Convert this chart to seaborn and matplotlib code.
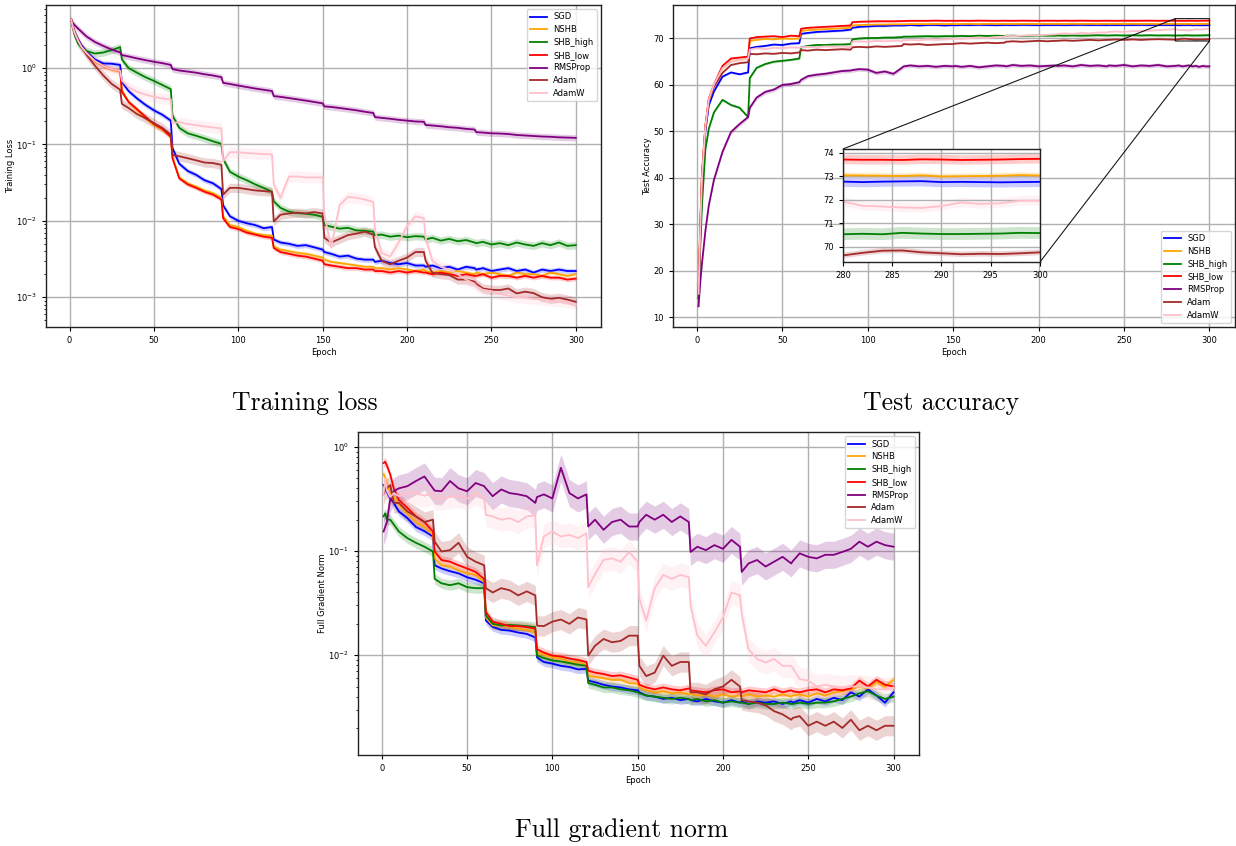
import numpy as np
import pandas as pd
import matplotlib
matplotlib.use("Agg")
import matplotlib.pyplot as plt
import seaborn as sns

OPTIMIZERS = ["SGD", "NSHB", "SHB_high", "SHB_low", "RMSProp", "Adam", "AdamW"]
COLORS = ["blue", "orange", "green", "red", "purple", "brown", "pink"]

EPOCHS = [1, 2, 3, 5, 7, 10, 15, 20, 25, 30,
          31, 35, 40, 45, 50, 55, 60,
          61, 65, 70, 75, 80, 85, 90,
          91, 95, 100, 105, 110, 115, 120,
          121, 125, 130, 135, 140, 145, 150,
          151, 155, 160, 165, 170, 175, 180,
          181, 185, 190, 195, 200, 205, 210,
          211, 215, 220, 225, 230, 235, 240,
          241, 245, 250, 255, 260, 265, 270, 275, 280, 285, 290, 295, 300]

EPOCHS_ACC = [1, 2, 3, 5, 7, 10, 15, 20, 25, 30,
              31, 35, 40, 45, 50, 55, 60,
              61, 65, 70, 75, 80, 85, 90,
              91, 95, 100, 105, 110, 115, 120,
              121, 125, 130, 135, 140, 145, 150,
              151, 155, 160, 165, 170, 175, 180,
              181, 185, 190, 195, 200, 205, 210,
              211, 215, 220, 225, 230, 235, 240,
              241, 245, 250, 255, 260, 265, 270, 275,
              280, 282, 284, 286, 288, 290, 292, 294, 296, 298, 300]

# ---------------- training loss (mean over runs) ----------------
loss_sgd = [4.3, 3.5, 3.0, 2.4, 2.0, 1.65, 1.3, 1.15, 1.14, 1.1,
            0.66, 0.50, 0.40, 0.33, 0.28, 0.245, 0.205,
            0.09, 0.056, 0.045, 0.040, 0.034, 0.031, 0.026,
            0.016, 0.0115, 0.010, 0.0093, 0.0088, 0.0080, 0.0083,
            0.0057, 0.0052, 0.0050, 0.0047, 0.0048, 0.0045, 0.0042,
            0.0039, 0.0037, 0.0034, 0.0035, 0.0032, 0.0031, 0.0031,
            0.0029, 0.0030, 0.0028, 0.0027, 0.0028, 0.0026, 0.0026,
            0.0025, 0.0026, 0.0024, 0.0025, 0.0023, 0.0025, 0.0024,
            0.0023, 0.0024, 0.0022, 0.0023, 0.0024, 0.0022, 0.0023, 0.0021, 0.0023, 0.0022, 0.0023, 0.0022, 0.0022]
loss_nshb = [4.3, 3.4, 2.9, 2.3, 1.9, 1.58, 1.22, 1.05, 0.96, 0.90,
             0.52, 0.36, 0.28, 0.22, 0.18, 0.155, 0.128,
             0.068, 0.037, 0.031, 0.028, 0.025, 0.023, 0.020,
             0.0115, 0.0088, 0.0083, 0.0074, 0.0068, 0.0065, 0.0064,
             0.0046, 0.0042, 0.0040, 0.0038, 0.0037, 0.0035, 0.0033,
             0.0031, 0.0029, 0.0028, 0.0027, 0.0026, 0.0025, 0.0025,
             0.0024, 0.0024, 0.0023, 0.0024, 0.0023, 0.0022, 0.0023,
             0.0022, 0.0021, 0.0022, 0.0021, 0.0022, 0.0021, 0.0020,
             0.0021, 0.0020, 0.0021, 0.0020, 0.0019, 0.0021, 0.0020, 0.0020, 0.0019, 0.0021, 0.0020, 0.0019, 0.0020]
loss_shb_high = [4.3, 3.3, 2.7, 2.1, 1.85, 1.68, 1.55, 1.6, 1.72, 1.88,
                 1.3, 1.0, 0.87, 0.76, 0.68, 0.6, 0.53,
                 0.24, 0.165, 0.14, 0.13, 0.12, 0.11, 0.102,
                 0.065, 0.044, 0.038, 0.034, 0.030, 0.027, 0.024,
                 0.018, 0.0148, 0.0132, 0.0126, 0.0124, 0.0120, 0.0113,
                 0.0088, 0.0084, 0.0079, 0.0081, 0.0075, 0.0074, 0.0072,
                 0.0065, 0.0066, 0.0062, 0.0064, 0.0061, 0.0063, 0.0062,
                 0.0057, 0.0060, 0.0055, 0.0058, 0.0054, 0.0056, 0.0052,
                 0.0051, 0.0053, 0.0049, 0.0051, 0.0048, 0.0052, 0.0049, 0.0047, 0.0051, 0.0048, 0.0052, 0.0047, 0.0048]
loss_shb_low = [4.3, 3.4, 2.9, 2.3, 1.9, 1.58, 1.24, 1.06, 0.97, 0.92,
                0.49, 0.36, 0.29, 0.23, 0.185, 0.16, 0.126,
                0.066, 0.036, 0.030, 0.027, 0.024, 0.022, 0.019,
                0.0108, 0.0083, 0.0078, 0.0070, 0.0066, 0.0062, 0.0060,
                0.0044, 0.0039, 0.0037, 0.0035, 0.0034, 0.0032, 0.0030,
                0.0027, 0.0026, 0.0025, 0.0024, 0.0024, 0.0023, 0.0023,
                0.0022, 0.0022, 0.0021, 0.0022, 0.0021, 0.0022, 0.0021,
                0.0021, 0.0020, 0.0021, 0.0020, 0.0019, 0.0020, 0.0019,
                0.0019, 0.0020, 0.0018, 0.0019, 0.0019, 0.0018, 0.0019, 0.0018, 0.0019, 0.0018, 0.0018, 0.0017, 0.00175]
loss_rmsprop = [4.2, 3.9, 3.65, 3.3, 3.0, 2.6, 2.2, 1.95, 1.75, 1.6,
                1.48, 1.42, 1.34, 1.27, 1.21, 1.16, 1.1,
                0.97, 0.93, 0.9, 0.87, 0.83, 0.8, 0.76,
                0.64, 0.62, 0.59, 0.565, 0.54, 0.52, 0.5,
                0.43, 0.42, 0.405, 0.39, 0.375, 0.36, 0.345,
                0.315, 0.31, 0.3, 0.29, 0.28, 0.268, 0.258,
                0.228, 0.223, 0.217, 0.21, 0.205, 0.2, 0.198,
                0.18, 0.177, 0.173, 0.168, 0.165, 0.16, 0.157,
                0.145, 0.143, 0.14, 0.139, 0.137, 0.133, 0.131, 0.129, 0.127, 0.126, 0.124, 0.123, 0.122]
loss_adam = [4.3, 3.4, 2.9, 2.3, 1.9, 1.5, 1.08, 0.8, 0.62, 0.52,
             0.34, 0.3, 0.25, 0.22, 0.19, 0.165, 0.135,
             0.073, 0.070, 0.066, 0.062, 0.058, 0.057, 0.054,
             0.022, 0.027, 0.027, 0.026, 0.025, 0.0245, 0.024,
             0.0098, 0.012, 0.0125, 0.0128, 0.0125, 0.013, 0.0125,
             0.006, 0.0052, 0.0058, 0.0065, 0.0068, 0.0072, 0.0066,
             0.0045, 0.0030, 0.0027, 0.0030, 0.0033, 0.0039, 0.0039,
             0.0030, 0.0021, 0.0020, 0.00195, 0.0017, 0.0017, 0.0016,
             0.0015, 0.0013, 0.00125, 0.00124, 0.0013, 0.00112, 0.00118, 0.00113, 0.0010, 0.00095, 0.00098, 0.00093, 0.00087]
loss_adamw = [4.3, 3.4, 2.9, 2.3, 1.9, 1.58, 1.24, 1.06, 0.97, 0.92,
              0.69, 0.56, 0.49, 0.45, 0.42, 0.40, 0.39,
              0.19, 0.196, 0.185, 0.179, 0.172, 0.167, 0.162,
              0.06, 0.079, 0.079, 0.077, 0.076, 0.075, 0.074,
              0.03, 0.02, 0.038, 0.038, 0.037, 0.037, 0.037,
              0.012, 0.0045, 0.016, 0.0205, 0.020, 0.019, 0.0177,
              0.0075, 0.0038, 0.0034, 0.0052, 0.0085, 0.0115, 0.0108,
              0.006, 0.003, 0.0025, 0.0023, 0.0020, 0.0017, 0.0015,
              0.0014, 0.00125, 0.0012, 0.0011, 0.00105, 0.0010, 0.00098, 0.00095, 0.00093, 0.0009, 0.00088, 0.00085, 0.0008]

# relative half-width of the shaded spread band
loss_spread = [0.08, 0.07, 0.12, 0.07, 0.10, 0.15, 0.18]

# ---------------- test accuracy ----------------
acc_sgd = [14, 27, 38, 50, 55.5, 58.5, 61.7, 62.6, 62.2, 62.6,
           67.8, 68.1, 68.3, 68.6, 68.5, 68.8, 68.9,
           70.9, 71.1, 71.3, 71.4, 71.5, 71.6, 71.8,
           72.2, 72.4, 72.5, 72.6, 72.6, 72.7, 72.7,
           72.7, 72.8, 72.7, 72.8, 72.8, 72.7, 72.8,
           72.75, 72.8, 72.78, 72.82, 72.8, 72.76, 72.8,
           72.8, 72.78, 72.82, 72.8, 72.77, 72.8, 72.79,
           72.8, 72.78, 72.8, 72.82, 72.79, 72.8, 72.78,
           72.8, 72.78, 72.8, 72.79, 72.81, 72.78, 72.8, 72.79,
           72.78, 72.76, 72.78, 72.79, 72.8, 72.76, 72.77, 72.76, 72.75, 72.76, 72.77]
acc_nshb = [15, 29, 40, 51, 56.5, 59.8, 63.5, 65.0, 65.3, 65.6,
            69.4, 69.6, 69.8, 69.7, 69.9, 69.8, 69.9,
            71.5, 71.7, 71.8, 71.9, 72.0, 72.1, 72.2,
            72.7, 72.8, 72.85, 72.9, 72.9, 72.95, 72.95,
            72.95, 73.0, 73.0, 73.0, 73.02, 73.0, 73.02,
            73.0, 73.02, 73.03, 73.0, 73.04, 73.02, 73.03,
            73.03, 73.02, 73.04, 73.03, 73.02, 73.05, 73.03,
            73.04, 73.02, 73.05, 73.03, 73.04, 73.02, 73.05,
            73.03, 73.04, 73.02, 73.05, 73.03, 73.04, 73.02, 73.04,
            73.05, 73.04, 73.03, 73.02, 73.05, 73.0, 73.01, 73.02, 73.03, 73.06, 73.04]
acc_shb_high = [14, 25, 34, 46, 50.5, 54, 56.7, 55.6, 55.0, 53.0,
                61.4, 63.6, 64.4, 64.9, 65.1, 65.3, 65.6,
                68.0, 68.3, 68.5, 68.5, 68.6, 68.6, 68.7,
                69.7, 69.9, 70.0, 70.0, 70.1, 70.1, 70.2,
                70.3, 70.3, 70.35, 70.4, 70.35, 70.4, 70.4,
                70.4, 70.45, 70.4, 70.5, 70.45, 70.5, 70.45,
                70.5, 70.5, 70.45, 70.5, 70.55, 70.5, 70.5,
                70.55, 70.5, 70.55, 70.5, 70.55, 70.6, 70.55,
                70.55, 70.6, 70.55, 70.6, 70.55, 70.6, 70.55, 70.58,
                70.54, 70.56, 70.54, 70.6, 70.57, 70.55, 70.55, 70.56, 70.57, 70.6, 70.59]
acc_shb_low = [15, 30, 41, 51, 57, 60, 64, 65.6, 65.8, 66.0,
               69.9, 70.2, 70.3, 70.4, 70.2, 70.5, 70.4,
               72.0, 72.2, 72.3, 72.4, 72.5, 72.6, 72.7,
               73.4, 73.5, 73.55, 73.6, 73.6, 73.6, 73.65,
               73.65, 73.7, 73.7, 73.7, 73.75, 73.7, 73.72,
               73.7, 73.72, 73.7, 73.75, 73.72, 73.7, 73.73,
               73.72, 73.7, 73.74, 73.72, 73.7, 73.73, 73.72,
               73.7, 73.73, 73.71, 73.74, 73.72, 73.7, 73.73,
               73.72, 73.7, 73.73, 73.71, 73.72, 73.74, 73.71, 73.72,
               73.72, 73.71, 73.71, 73.7, 73.73, 73.72, 73.7, 73.71, 73.72, 73.74, 73.75]
acc_rmsprop = [12.3, 17.5, 21.5, 28.5, 34, 39.5, 45.5, 49.8, 51.5, 53.0,
               55.0, 57.2, 58.4, 58.9, 59.9, 60.1, 60.5,
               61.0, 61.8, 62.1, 62.3, 62.6, 62.9, 63.0,
               63.1, 63.3, 63.2, 62.5, 62.8, 62.3, 63.6,
               63.9, 64.1, 63.9, 64.0, 63.8, 64.0, 63.9,
               64.0, 63.8, 64.0, 63.7, 63.9, 64.1, 64.0,
               63.9, 64.2, 64.0, 64.1, 63.9, 64.0, 64.1,
               64.0, 64.1, 63.9, 64.2, 64.0, 64.1, 63.9,
               64.1, 64.0, 64.2, 63.9, 64.1, 64.0, 64.2, 63.9,
               64.0, 64.1, 63.9, 64.0, 64.1, 63.9, 64.0, 63.8, 64.0, 63.9, 63.9]
acc_adam = [15, 29, 40, 51, 56.5, 59.5, 62.5, 64.2, 64.6, 64.8,
            66.6, 66.5, 66.7, 66.6, 66.8, 66.7, 66.9,
            67.4, 67.3, 67.5, 67.4, 67.5, 67.6, 67.5,
            68.0, 68.1, 68.0, 68.2, 68.1, 68.2, 68.3,
            68.7, 68.6, 68.7, 68.5, 68.6, 68.7, 68.7,
            68.8, 68.9, 68.8, 68.9, 69.0, 68.9, 69.0,
            69.2, 69.3, 69.2, 69.3, 69.4, 69.3, 69.4,
            69.4, 69.5, 69.4, 69.5, 69.6, 69.5, 69.6,
            69.6, 69.7, 69.6, 69.7, 69.6, 69.7, 69.75, 69.7,
            69.64, 69.75, 69.84, 69.85, 69.77, 69.73, 69.69, 69.71, 69.7, 69.73, 69.77]
acc_adamw = [15, 29, 40, 51, 56.8, 60, 63.5, 65.0, 65.3, 65.6,
             67.5, 67.8, 67.6, 67.9, 67.8, 68.0, 67.9,
             68.0, 68.1, 68.0, 68.2, 68.1, 68.2, 68.0,
             69.2, 69.3, 69.2, 69.4, 69.3, 69.4, 69.4,
             69.5, 69.6, 69.5, 69.7, 69.6, 69.7, 69.8,
             69.9, 69.8, 70.0, 70.1, 70.0, 70.2, 70.3,
             70.5, 70.4, 70.5, 70.6, 70.6, 70.7, 70.8,
             70.9, 71.0, 70.9, 71.1, 71.0, 71.2, 71.2,
             71.3, 71.4, 71.3, 71.5, 71.5, 71.6, 71.7, 71.8,
             71.93, 71.75, 71.72, 71.68, 71.66, 71.74, 71.89, 71.83, 71.86, 71.97, 71.97]

# absolute half-width of the shaded spread band (accuracy points)
acc_spread = [0.22, 0.12, 0.25, 0.2, 0.45, 0.12, 0.2]

# ---------------- full gradient norm ----------------
grad_sgd = [0.43, 0.40, 0.37, 0.32, 0.29, 0.24, 0.207, 0.17, 0.155, 0.138,
            0.073, 0.068, 0.064, 0.061, 0.056, 0.053, 0.049,
            0.0215, 0.0187, 0.0175, 0.0172, 0.0165, 0.016, 0.0148,
            0.0095, 0.0086, 0.0083, 0.0079, 0.0077, 0.0073, 0.0074,
            0.0057, 0.0055, 0.0052, 0.0050, 0.0049, 0.0047, 0.0046,
            0.0044, 0.0041, 0.0040, 0.0038, 0.0039, 0.0037, 0.0038,
            0.0037, 0.0036, 0.0038, 0.0036, 0.0035, 0.0037, 0.0035,
            0.0036, 0.0034, 0.0036, 0.0035, 0.0036, 0.0034, 0.0036,
            0.0035, 0.0037, 0.0035, 0.0038, 0.0036, 0.0039, 0.0037, 0.0044, 0.0040, 0.0047, 0.0041, 0.0035, 0.0044]
grad_nshb = [0.55, 0.5, 0.45, 0.36, 0.33, 0.28, 0.23, 0.19, 0.17, 0.143,
             0.085, 0.073, 0.071, 0.065, 0.061, 0.059, 0.05,
             0.023, 0.0193, 0.0193, 0.0187, 0.018, 0.0175, 0.0165,
             0.0106, 0.0101, 0.0095, 0.0093, 0.0086, 0.0086, 0.0079,
             0.0063, 0.0062, 0.0060, 0.0058, 0.0058, 0.0054, 0.0053,
             0.0049, 0.0046, 0.0044, 0.0045, 0.0043, 0.0044, 0.0042,
             0.0043, 0.0041, 0.0042, 0.0040, 0.0042, 0.0040, 0.0041,
             0.0040, 0.0042, 0.0040, 0.0041, 0.0040, 0.0042, 0.0040,
             0.0041, 0.0042, 0.0040, 0.0043, 0.0041, 0.0044, 0.0045, 0.0047, 0.0050, 0.0048, 0.0055, 0.0050, 0.0058]
grad_shb_high = [0.215, 0.23, 0.2, 0.2, 0.18, 0.154, 0.133, 0.12, 0.11, 0.099,
                 0.054, 0.049, 0.047, 0.049, 0.045, 0.044, 0.044,
                 0.024, 0.020, 0.0193, 0.0195, 0.0193, 0.019, 0.0186,
                 0.0099, 0.0094, 0.0089, 0.0087, 0.0084, 0.0081, 0.0079,
                 0.0054, 0.0052, 0.0049, 0.0049, 0.0047, 0.0046, 0.0044,
                 0.0043, 0.0041, 0.0040, 0.0039, 0.0038, 0.0039, 0.0038,
                 0.0037, 0.0038, 0.0036, 0.0037, 0.0035, 0.0036, 0.0035,
                 0.0035, 0.0034, 0.0035, 0.0034, 0.0034, 0.0035, 0.0034,
                 0.0034, 0.0035, 0.0034, 0.0035, 0.0035, 0.0036, 0.0038, 0.0040, 0.0043, 0.0045, 0.0041, 0.0038, 0.0040]
grad_shb_low = [0.70, 0.72, 0.66, 0.54, 0.40, 0.31, 0.26, 0.215, 0.19, 0.154,
                0.099, 0.082, 0.079, 0.073, 0.068, 0.063, 0.054,
                0.026, 0.021, 0.020, 0.019, 0.019, 0.0186, 0.018,
                0.0114, 0.0106, 0.0099, 0.0097, 0.0093, 0.0090, 0.0086,
                0.0071, 0.0068, 0.0066, 0.0063, 0.0064, 0.0061, 0.0058,
                0.0052, 0.0049, 0.0047, 0.0049, 0.0047, 0.0046, 0.0048,
                0.0046, 0.0045, 0.0044, 0.0046, 0.0047, 0.0044, 0.0045,
                0.0044, 0.0046, 0.0045, 0.0044, 0.0047, 0.0044, 0.0046,
                0.0045, 0.0044, 0.0046, 0.0047, 0.0044, 0.0047, 0.0046, 0.0048, 0.0057, 0.0050, 0.0058, 0.0052, 0.0050]
grad_rmsprop = [0.154, 0.17, 0.19, 0.32, 0.375, 0.40, 0.42, 0.47, 0.52, 0.40,
                0.38, 0.375, 0.47, 0.40, 0.375, 0.45, 0.42,
                0.40, 0.336, 0.39, 0.36, 0.35, 0.336, 0.29,
                0.33, 0.35, 0.32, 0.63, 0.36, 0.32, 0.35,
                0.172, 0.2, 0.16, 0.19, 0.2, 0.172, 0.172,
                0.19, 0.223, 0.2, 0.223, 0.19, 0.215, 0.19,
                0.098, 0.11, 0.102, 0.114, 0.105, 0.128, 0.11,
                0.063, 0.076, 0.082, 0.071, 0.079, 0.088, 0.076,
                0.08, 0.095, 0.088, 0.085, 0.092, 0.092, 0.098, 0.105, 0.123, 0.11, 0.123, 0.114, 0.11]
grad_adam = [0.35, 0.39, 0.40, 0.43, 0.29, 0.29, 0.24, 0.215, 0.19, 0.2,
             0.123, 0.099, 0.102, 0.12, 0.088, 0.079, 0.073,
             0.044, 0.040, 0.044, 0.042, 0.0375, 0.041, 0.0375,
             0.0192, 0.019, 0.021, 0.022, 0.020, 0.023, 0.022,
             0.0099, 0.0123, 0.0143, 0.0133, 0.0137, 0.0154, 0.0154,
             0.0079, 0.0063, 0.0068, 0.0099, 0.0079, 0.0086, 0.0086,
             0.0044, 0.0044, 0.0042, 0.0047, 0.0050, 0.0058, 0.0050,
             0.0037, 0.0036, 0.0035, 0.0033, 0.0029, 0.0027, 0.0024,
             0.0025, 0.0026, 0.0021, 0.0023, 0.0021, 0.0023, 0.0020, 0.0024, 0.0019, 0.0021, 0.0019, 0.0021, 0.0021]
grad_adamw = [0.35, 0.5, 0.38, 0.33, 0.36, 0.336, 0.36, 0.36, 0.34, 0.36,
              0.32, 0.32, 0.33, 0.34, 0.32, 0.36, 0.32,
              0.223, 0.215, 0.2, 0.207, 0.19, 0.215, 0.22,
              0.073, 0.138, 0.154, 0.138, 0.143, 0.133, 0.148,
              0.045, 0.06, 0.082, 0.085, 0.079, 0.098, 0.079,
              0.035, 0.0215, 0.044, 0.059, 0.054, 0.059, 0.056,
              0.03, 0.0154, 0.0123, 0.0166, 0.023, 0.04, 0.0375,
              0.025, 0.0114, 0.0092, 0.0085, 0.0092, 0.0079, 0.0079,
              0.0075, 0.0059, 0.0057, 0.005, 0.0052, 0.005, 0.0049, 0.005, 0.005, 0.0049, 0.0047, 0.0047, 0.0049]

grad_spread = [0.10, 0.10, 0.12, 0.10, 0.35, 0.25, 0.3]

LOSS = [loss_sgd, loss_nshb, loss_shb_high, loss_shb_low, loss_rmsprop, loss_adam, loss_adamw]
ACC = [acc_sgd, acc_nshb, acc_shb_high, acc_shb_low, acc_rmsprop, acc_adam, acc_adamw]
GRAD = [grad_sgd, grad_nshb, grad_shb_high, grad_shb_low, grad_rmsprop, grad_adam, grad_adamw]

for group, ep in ((LOSS, EPOCHS), (ACC, EPOCHS_ACC), (GRAD, EPOCHS)):
    for s in group:
        if len(s) != len(ep):
            raise ValueError(f"length mismatch {len(s)} vs {len(ep)}")

PALETTE = dict(zip(OPTIMIZERS, COLORS))
TICK = 6
LW = 1.3


def long_frame(epochs, series):
    rows = []
    for name, vals in zip(OPTIMIZERS, series):
        for e, v in zip(epochs, vals):
            rows.append((e, v, name))
    return pd.DataFrame(rows, columns=["epoch", "value", "optimizer"])


def draw_curves(ax, epochs, series, spread, log, legend=True):
    ep = np.asarray(epochs, dtype=float)
    for vals, s, color in zip(series, spread, COLORS):
        v = np.asarray(vals, dtype=float)
        if log:
            lo, hi = v / (1 + s), v * (1 + s)
        else:
            lo, hi = v - s, v + s
        ax.fill_between(ep, lo, hi, color=color, alpha=0.2, linewidth=0)
    sns.lineplot(data=long_frame(epochs, series), x="epoch", y="value",
                 hue="optimizer", hue_order=OPTIMIZERS, palette=PALETTE,
                 errorbar=None, linewidth=LW, ax=ax, legend=legend)


def style_axes(ax, ylabel, log, ylim, legend_loc):
    if log:
        ax.set_yscale("log")
    ax.set_xlim(-13.95, 314.95)
    ax.set_ylim(*ylim)
    ax.set_xticks([0, 50, 100, 150, 200, 250, 300])
    ax.grid(True, which="major", color="#b0b0b0", linewidth=1.0)
    ax.set_axisbelow(True)
    ax.tick_params(labelsize=TICK, length=3, width=0.8)
    ax.tick_params(which="minor", length=1.8, width=0.6)
    ax.set_xlabel("Epoch", fontsize=TICK, labelpad=2)
    ax.set_ylabel(ylabel, fontsize=TICK, labelpad=1)
    for sp in ax.spines.values():
        sp.set_linewidth(1.0)
        sp.set_color("#222222")
    handles, labels = ax.get_legend_handles_labels()
    ax.legend(handles, labels, loc=legend_loc, fontsize=TICK,
              handlelength=2.0, borderpad=0.4, labelspacing=0.45)


fig = plt.figure(figsize=(12.36, 8.46), dpi=100)
W, H = 1236.0, 846.0


def frame(left, top, right, bottom):
    return [left / W, 1 - bottom / H, (right - left) / W, (bottom - top) / H]


ax_loss = fig.add_axes(frame(46, 5, 601, 327))
ax_acc = fig.add_axes(frame(673, 5, 1235, 327))
ax_grad = fig.add_axes(frame(358, 432, 919, 755))

draw_curves(ax_loss, EPOCHS, LOSS, loss_spread, log=True)
style_axes(ax_loss, "Training Loss", True, (4.07e-4, 6.7), "upper right")

draw_curves(ax_acc, EPOCHS_ACC, ACC, acc_spread, log=False)
style_axes(ax_acc, "Test Accuracy", False, (7.85, 77.1), "lower right")
ax_acc.set_yticks([10, 20, 30, 40, 50, 60, 70])

draw_curves(ax_grad, EPOCHS, GRAD, grad_spread, log=True)
style_axes(ax_grad, "Full Gradient Norm", True, (1.1e-3, 1.39), "upper right")

# zoomed view of the final epochs of test accuracy
axins = ax_acc.inset_axes([0.3025, 0.2019, 0.3505, 0.351])
draw_curves(axins, EPOCHS_ACC, ACC, acc_spread, log=False, legend=False)
axins.set_xlim(280, 300)
axins.set_ylim(69.36, 74.17)
axins.set_xticks([280, 285, 290, 295, 300])
axins.set_yticks([70, 71, 72, 73, 74])
axins.grid(True, color="#b0b0b0", linewidth=1.0)
axins.tick_params(labelsize=TICK, length=3, width=0.8)
axins.set_xlabel("")
axins.set_ylabel("")
for sp in axins.spines.values():
    sp.set_linewidth(1.0)
    sp.set_color("#222222")
ax_acc.indicate_inset_zoom(axins, edgecolor="black", linewidth=0.8, alpha=0.9)

CAPTION = dict(ha="center", va="center", fontsize=18.5, family="cmr10")
fig.text(305 / W, 1 - 403 / H, "Training loss", **CAPTION)
fig.text(941 / W, 1 - 403 / H, "Test accuracy", **CAPTION)
fig.text(622 / W, 1 - 830 / H, "Full gradient norm", **CAPTION)

fig.savefig("out.png", dpi=100)
